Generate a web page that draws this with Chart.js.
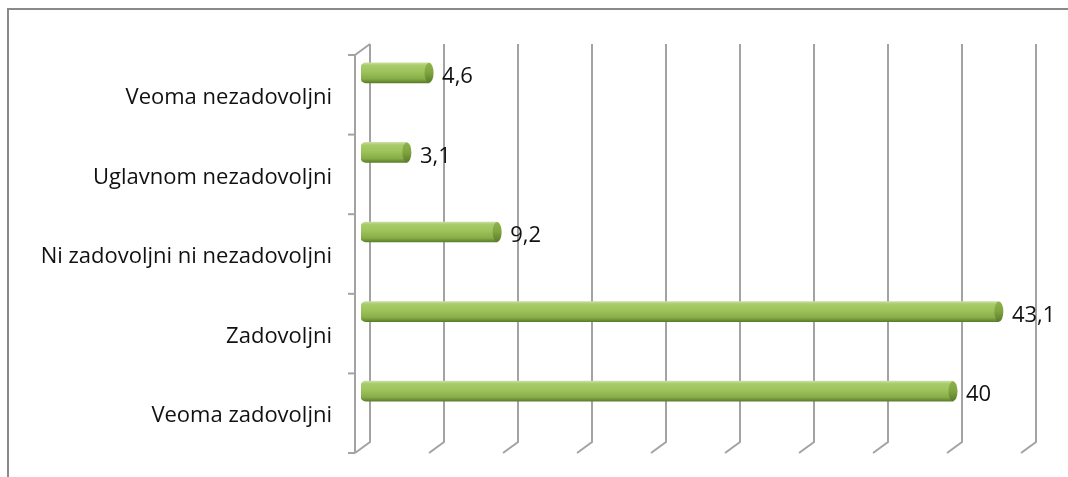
<!DOCTYPE html>
<html>
<head>
<meta charset="utf-8">
<script src="https://cdn.jsdelivr.net/npm/chart.js@4/dist/chart.umd.min.js"></script>
<style>
  html, body { margin: 0; padding: 0; background: #fff; }
  #wrap { position: relative; width: 1068px; height: 477px; overflow: hidden; }
  #frame {
    position: absolute; left: 7px; top: 8px; width: 1200px; height: 600px;
    border-left: 2px solid #8a8a8a; border-top: 2px solid #8a8a8a;
    pointer-events: none;
  }
  canvas { position: absolute; left: 0; top: 0; }
</style>
</head>
<body>
<div id="wrap">
  <canvas id="satChart" width="1068" height="477"></canvas>
  <div id="frame"></div>
</div>
<script>
const categories = [
    'Veoma nezadovoljni',
    'Uglavnom nezadovoljni',
    'Ni zadovoljni ni nezadovoljni',
    'Zadovoljni',
    'Veoma zadovoljni'
];
const percentages = [4.6, 3.1, 9.2, 43.1, 40];
const axisMin = 0;
const axisMax = 45;
const axisStep = 5;

// 3D look: depth of the back wall and where the cylinders sit inside it
const depthX = 15;
const depthY = -11;
const barShiftX = 6;
const barShiftY = -22;
const barHeight = 20;
const gridColor = '#a3a3a3';

function barGradient(ctx, cy) {
    const g = ctx.createLinearGradient(0, cy - barHeight / 2, 0, cy + barHeight / 2);
    g.addColorStop(0, '#c9dda0');
    g.addColorStop(0.12, '#a9cc6b');
    g.addColorStop(0.45, '#9cc35b');
    g.addColorStop(0.8, '#87ad48');
    g.addColorStop(1, '#5c7e2b');
    return g;
}

function capGradient(ctx, cy) {
    const g = ctx.createLinearGradient(0, cy - barHeight / 2, 0, cy + barHeight / 2);
    g.addColorStop(0, '#8fb24e');
    g.addColorStop(0.5, '#7fa33f');
    g.addColorStop(1, '#5a7b28');
    return g;
}

const wallPlugin = {
    id: 'wall3d',
    beforeDatasetsDraw(chart) {
        const ctx = chart.ctx;
        const area = chart.chartArea;
        const xs = chart.scales.x;
        ctx.save();
        ctx.strokeStyle = gridColor;
        ctx.lineWidth = 2;
        ctx.lineCap = 'butt';

        // vertical gridlines on the back wall, folding forward onto the floor
        for (let v = axisMin; v <= axisMax; v += axisStep) {
            const x = xs.getPixelForValue(v);
            ctx.beginPath();
            ctx.moveTo(x + depthX, area.top + depthY);
            ctx.lineTo(x + depthX, area.bottom + depthY);
            ctx.lineTo(x, area.bottom);
            ctx.stroke();
        }

        // front category axis with its top edge and tick marks
        ctx.beginPath();
        ctx.moveTo(area.left + depthX, area.top + depthY);
        ctx.lineTo(area.left, area.top);
        ctx.lineTo(area.left, area.bottom);
        ctx.stroke();
        const band = (area.bottom - area.top) / categories.length;
        for (let i = 0; i <= categories.length; i++) {
            const y = area.top + band * i;
            ctx.beginPath();
            ctx.moveTo(area.left - 7, y);
            ctx.lineTo(area.left, y);
            ctx.stroke();
        }
        ctx.restore();

        ctx.save();
        ctx.translate(barShiftX, barShiftY);
    },
    afterDatasetsDraw(chart) {
        const ctx = chart.ctx;
        ctx.restore();

        const meta = chart.getDatasetMeta(0);
        ctx.save();
        meta.data.forEach((bar, i) => {
            const x = bar.x + barShiftX;
            const y = bar.y + barShiftY;
            // end face of the cylinder
            ctx.beginPath();
            ctx.ellipse(x, y, 4.5, barHeight / 2, 0, 0, Math.PI * 2);
            ctx.fillStyle = capGradient(ctx, y);
            ctx.fill();

            ctx.fillStyle = '#111';
            ctx.font = '22px "Open Sans"';
            ctx.textAlign = 'left';
            ctx.textBaseline = 'middle';
            ctx.fillText(String(percentages[i]).replace('.', ','), x + 13, y + 4);
        });
        ctx.restore();
    }
};

const ctx = document.getElementById('satChart').getContext('2d');

new Chart(ctx, {
    type: 'bar',
    data: {
        labels: categories,
        datasets: [{
            data: percentages,
            barThickness: barHeight,
            borderSkipped: false,
            borderRadius: { topLeft: 5, bottomLeft: 5, topRight: 0, bottomRight: 0 },
            backgroundColor: function (c) {
                const ys = c.chart.scales.y;
                if (c.type !== 'data' || !ys) return '#9bbb59';
                const cy = ys.getPixelForValue(c.dataIndex);
                if (!isFinite(cy)) return '#9bbb59';
                return barGradient(c.chart.ctx, cy);
            }
        }]
    },
    plugins: [wallPlugin],
    options: {
        indexAxis: 'y',
        responsive: false,
        animation: false,
        layout: {
            padding: { left: 0, right: 47, top: 55, bottom: 24 }
        },
        plugins: {
            legend: { display: false },
            tooltip: { enabled: false }
        },
        scales: {
            x: {
                display: false,
                min: axisMin,
                max: axisMax,
                ticks: { stepSize: axisStep }
            },
            y: {
                grid: { display: false, drawTicks: false },
                border: { display: false },
                ticks: {
                    color: '#111',
                    padding: 23,
                    labelOffset: 3,
                    font: { family: '"Open Sans"', size: 22 }
                },
                afterFit: function (scale) {
                    scale.width = 355;
                    // labels may sit on the band edges without pushing the plot in
                    scale.paddingTop = 0;
                    scale.paddingBottom = 0;
                }
            }
        }
    }
});
</script>
</body>
</html>
